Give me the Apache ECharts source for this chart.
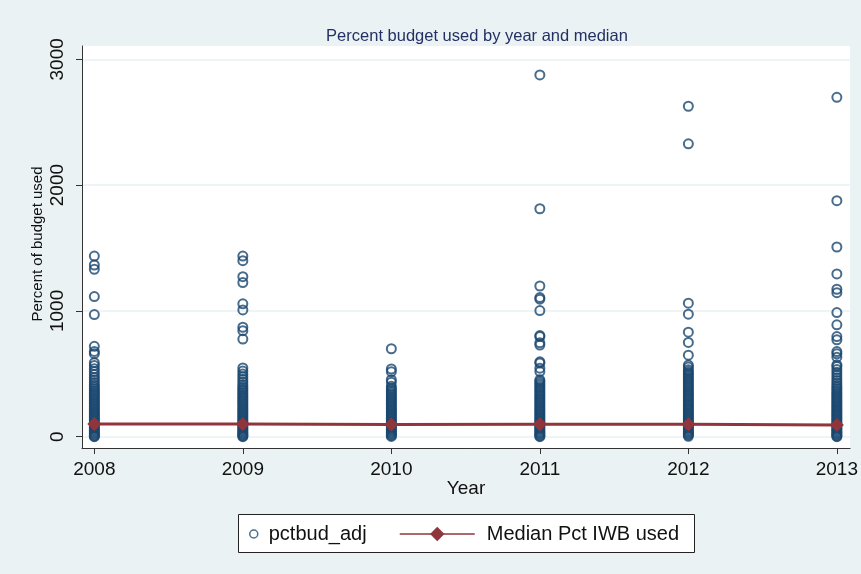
<!DOCTYPE html>
<html>
<head>
<meta charset="utf-8">
<script src="https://cdn.jsdelivr.net/npm/echarts@6/dist/echarts.min.js"></script>
<style>
  html, body { margin: 0; padding: 0; background: #eaf2f3; }
  #chart { width: 861px; height: 574px; }
</style>
</head>
<body>
<div id="chart"></div>
<script>
// values
var years = [2008, 2009, 2010, 2011, 2012, 2013];
var yTicks = [0, 1000, 2000, 3000];
var medianPct = [100, 100, 97, 98, 98, 92];

var pct2008 = [1436, 1365, 1331, 1114, 971, 718, 678, 660, 588, 565, 541, 518, 494, 471, 450, 430, 412, 396, 382, 368, 354, 340, 327, 313, 300, 287, 274, 261, 248, 235, 222, 210, 197, 185, 173, 161, 149, 137, 126, 114, 103, 92, 81, 70, 60, 50, 40, 30, 21, 12, 4, 0];
var pct2009 = [1436, 1399, 1272, 1225, 1056, 1008, 870, 843, 776, 546, 522, 499, 477, 455, 434, 414, 397, 383, 369, 355, 341, 328, 314, 301, 288, 275, 262, 249, 236, 223, 211, 198, 186, 174, 162, 150, 138, 127, 115, 104, 93, 82, 71, 61, 51, 41, 31, 22, 13, 5, 0];
var pct2010 = [699, 538, 517, 453, 432, 400, 386, 372, 358, 345, 331, 318, 305, 292, 279, 266, 253, 240, 228, 215, 203, 191, 179, 167, 155, 144, 132, 121, 110, 99, 88, 78, 67, 57, 47, 37, 28, 19, 10, 2];
var pct2011 = [2876, 1812, 1198, 1106, 1093, 1003, 804, 796, 746, 728, 595, 585, 545, 518, 452, 439, 425, 411, 397, 384, 370, 357, 343, 330, 317, 304, 291, 278, 265, 252, 239, 227, 214, 202, 190, 178, 166, 154, 142, 131, 119, 108, 97, 86, 75, 65, 54, 44, 34, 25, 15, 6, 0];
var pct2012 = [2627, 2328, 1061, 974, 831, 749, 648, 569, 553, 532, 518, 504, 490, 476, 462, 448, 434, 420, 406, 392, 379, 365, 352, 338, 325, 312, 299, 286, 273, 260, 247, 235, 222, 210, 197, 185, 173, 161, 149, 138, 126, 115, 104, 93, 82, 71, 61, 50, 40, 30, 21, 12, 3];
var pct2013 = [2698, 1876, 1508, 1294, 1172, 1145, 987, 889, 796, 770, 677, 659, 632, 571, 558, 534, 512, 490, 468, 447, 427, 408, 393, 379, 365, 351, 338, 324, 311, 298, 285, 272, 259, 246, 234, 221, 209, 197, 185, 173, 161, 149, 138, 126, 115, 104, 93, 83, 72, 62, 52, 42, 32, 23, 14, 5, 0];

var byYear = [pct2008, pct2009, pct2010, pct2011, pct2012, pct2013];
var scatterData = [];
years.forEach(function (yr, i) {
  byYear[i].forEach(function (v) { scatterData.push([yr, v]); });
});
var medianData = years.map(function (yr, i) { return [yr, medianPct[i]]; });

var font = 'Liberation Sans, Arial, Helvetica, sans-serif';
var navy = '#1a476f';
var maroon = '#90353b';

var myChart = echarts.init(document.getElementById('chart'));
var option = {
  backgroundColor: '#eaf2f3',
  animation: false,
  title: {
    text: 'Percent budget used by year and median',
    left: 472,
    textAlign: 'center',
    top: 23,
    textStyle: { fontFamily: font, fontSize: 16.5, fontWeight: 'normal', color: '#243064' }
  },
  graphic: [
    {
      type: 'rect',
      shape: { x: 238.5, y: 514.5, width: 456, height: 38 },
      style: { fill: '#fff', stroke: '#222', lineWidth: 1 },
      z: 0
    },
    {
      // y axis title
      type: 'text',
      x: 38,
      y: 244,
      rotation: Math.PI / 2,
      style: {
        text: 'Percent of budget used',
        font: '15px ' + font,
        fill: '#111',
        align: 'center',
        verticalAlign: 'middle'
      }
    }
  ],
  legend: [
    {
      data: [{ name: 'pctbud_adj', itemStyle: { color: 'transparent', borderColor: navy, borderWidth: 1.5 } }],
      left: 249,
      top: 524,
      padding: 0,
      itemWidth: 8,
      itemHeight: 8,
      textStyle: { fontFamily: font, fontSize: 20, color: '#111', padding: [0, 0, 0, 6] }
    },
    {
      data: ['Median Pct IWB used'],
      left: 399,
      top: 524,
      padding: 0,
      itemWidth: 75,
      itemHeight: 18,
      lineStyle: { width: 1.5 },
      textStyle: { fontFamily: font, fontSize: 20, color: '#111', padding: [0, 0, 0, 7] }
    }
  ],
  grid: {
    left: 82, right: 10, top: 46, bottom: 126,
    show: true, backgroundColor: '#fff', borderWidth: 0
  },
  xAxis: {
    type: 'value',
    min: 2007.917,
    max: 2013.089,
    name: 'Year',
    nameLocation: 'middle',
    nameGap: 31,
    nameMoveOverlap: false,
    nameTextStyle: { fontFamily: font, fontSize: 19, color: '#111' },
    axisLine: { show: true, onZero: false, lineStyle: { color: '#333', width: 1 } },
    axisTick: { show: true, length: 6, customValues: years, lineStyle: { color: '#333' } },
    axisLabel: {
      customValues: years, margin: 12, fontFamily: font, fontSize: 19, color: '#111',
      formatter: function (v) { return String(v); }
    },
    splitLine: { show: false }
  },
  yAxis: {
    type: 'value',
    min: -90,
    max: 3106,
    axisLine: { show: true, onZero: false, lineStyle: { color: '#333', width: 1 } },
    axisTick: { show: true, length: 6, customValues: yTicks, lineStyle: { color: '#333' } },
    axisLabel: {
      customValues: yTicks, rotate: 90, margin: 15, fontFamily: font, fontSize: 19, color: '#111',
      formatter: function (v) { return String(v); }
    },
    splitLine: { show: true, lineStyle: { color: '#eaf2f3', width: 1.5 } }
  },
  series: [
    {
      name: 'pctbud_adj',
      type: 'scatter',
      symbol: 'circle',
      symbolSize: 9,
      itemStyle: { color: 'transparent', borderColor: navy, borderWidth: 2 },
      data: scatterData,
      z: 2
    },
    {
      name: 'Median Pct IWB used',
      type: 'line',
      symbol: 'diamond',
      symbolSize: 14,
      color: maroon,
      itemStyle: { color: maroon },
      lineStyle: { color: maroon, width: 3 },
      data: medianData,
      z: 3
    }
  ]
};
myChart.setOption(option);
</script>
</body>
</html>
